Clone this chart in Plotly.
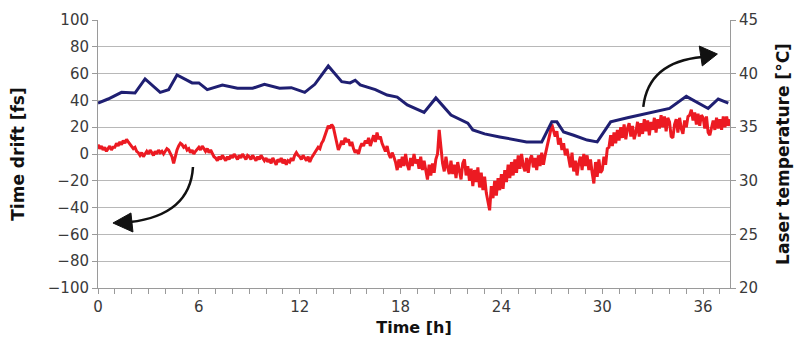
import numpy as np
import plotly.graph_objects as go

# ---- data ----
# Time drift (red), sampled every 0.1 h from 0 to 37.6 h (one row per hour)
drift_fs = [
    7, 4, 6, 3, 5, 2, 4, 6, 3, 5,
    5, 8, 6, 9, 7, 10, 8, 11, 9, 7,
    6, 4, 5, 2, 1, -1, 1, -2, 0, 2,
    0, 3, 1, -1, 2, 0, 3, 1, 2, 0,
    2, 4, 3, 1, -2, -7, -1, 3, 6, 8,
    7, 5, 6, 3, 4, 1, 3, 0, 2, 4,
    5, 3, 6, 4, 2, 4, 1, 3, 0, -2,
    -3, -5, -2, -4, -1, -3, -5, -2, -4, -1,
    -3, 0, -2, -4, -1, -3, 0, -2, -4, -1,
    -2, -4, -1, -3, -5, -2, -4, -1, -3, -5,
    -3, -6, -4, -7, -3, -5, -8, -4, -6, -3,
    -7, -4, -8, -5, -6, -3, -5, -1, 1, -1,
    -2, -4, -1, -3, -5, -2, -6, -3, -1, 0,
    2, 5, 4, 8, 10, 14, 17, 21, 19, 22,
    20, 15, 8, 3, 6, 10, 7, 12, 9, 11,
    6, 9, 4, 1, 3, 0, 5, 8, 6, 10,
    8, 12, 6, 11, 14, 9, 16, 11, 13, 8,
    5, 2, 6, 0, -3, 1, -2, -6, -12, -4,
    -10, -2, -9, 0, -8, -12, -3, -9, 0, -7,
    -4, -11, -2, -12, -5, -14, -19, -8, -16, -7,
    -14, -4, 0, 18, 3, -7, -13, -2, -10, -15,
    -5, -15, -8, -18, -6, -13, -19, -7, -4, -16,
    -9, -20, -11, -24, -12, -21, -10, -25, -14, -27,
    -17, -29, -35, -42, -24, -33, -20, -31, -18, -27,
    -15, -26, -12, -21, -8, -18, -6, -16, -4, -14,
    -1, -11, 0, -9, -13, -3, -14, -4, -1, -10,
    -3, -12, -1, -9, 1, -8, -1, 4, 10, 16,
    22, 17, 13, 17, 7, 12, 3, 8, -1, 4,
    -4, -10, 1, -13, -5, -16, -7, -2, -12, 0,
    -9, -1, -12, -4, -14, -22, -6, -17, -4, -14,
    -12, -2, -8, 4, 5, 14, 6, 16, 8, 18,
    10, 20, 12, 22, 11, 19, 23, 13, 21, 11,
    16, 24, 13, 23, 15, 26, 17, 25, 14, 24,
    18, 27, 16, 26, 19, 29, 20, 28, 17, 27,
    24, 13, 12, 22, 26, 16, 27, 19, 15, 25,
    20, 28, 29, 33, 25, 31, 22, 30, 21, 29,
    27, 19, 28, 16, 14, 21, 25, 18, 27, 19,
    26, 18, 28, 20, 28, 21, 26,
]
drift_time_h = np.round(np.arange(len(drift_fs)) * 0.1, 1)

# Laser temperature (blue)
temp_time_h = [0, 0.6, 1.4, 2.2, 2.8, 3.7, 4.2, 4.7, 5.6, 6.0, 6.5, 7.4, 8.3, 9.2,
               9.9, 10.8, 11.5, 12.3, 12.9, 13.7, 14.5, 15.0, 15.3, 15.6, 16.5,
               17.2, 17.8, 18.4, 19.4, 20.1, 21.0, 22.0, 22.3, 23.0, 23.9, 25.5,
               26.4, 27.0, 27.3, 27.7, 28.3, 29.1, 29.7, 30.5, 31.5, 32.7, 34.0,
               35.0, 35.6, 36.3, 36.9, 37.5]
temp_c = [37.25, 37.63, 38.25, 38.19, 39.5, 38.25, 38.5, 39.88, 39.13, 39.13, 38.5,
          38.94, 38.63, 38.63, 39.0, 38.63, 38.69, 38.25, 39.0, 40.71, 39.25, 39.13,
          39.38, 38.94, 38.5, 38.0, 37.81, 37.08, 36.38, 37.73, 36.13, 35.38, 34.75,
          34.38, 34.09, 33.63, 33.63, 35.5, 35.5, 34.55, 34.25, 33.8, 33.63, 35.5,
          35.88, 36.33, 36.75, 37.88, 37.38, 36.75, 37.63, 37.25]

x_ticks = [0, 6, 12, 18, 24, 30, 36]
y_left_ticks = list(range(-100, 101, 20))
y_right_ticks = [20, 25, 30, 35, 40, 45]

FONT = "DejaVu Sans, Verdana, sans-serif"
AX = "#9a9a9a"
TICKFONT = dict(family=FONT, size=15, color="#3a3a3a")
TITLEFONT = dict(family=FONT, size=17, color="#111111")

fig = go.Figure()
fig.add_trace(go.Scatter(x=drift_time_h, y=drift_fs, mode="lines",
                         line=dict(color="#ec1a22", width=3), yaxis="y",
                         showlegend=False))
fig.add_trace(go.Scatter(x=temp_time_h, y=temp_c, mode="lines",
                         line=dict(color="#1f1f72", width=3), yaxis="y2",
                         showlegend=False))

# curved arrows (in left-axis data coordinates)
arrow_col = "#111111"
fig.add_shape(type="path", xref="x", yref="y",
              path="M 5.65,-9.7 Q 5.48,-45.5 1.9,-50.8",
              line=dict(color=arrow_col, width=2.5))
fig.add_shape(type="path", xref="x", yref="y",
              path="M 0.89,-51.5 L 1.96,-44.0 L 2.08,-58.2 Z",
              fillcolor=arrow_col, line=dict(color=arrow_col, width=1))
fig.add_shape(type="path", xref="x", yref="y",
              path="M 32.44,35.1 Q 32.74,68.7 35.95,72.4",
              line=dict(color=arrow_col, width=2.5))
fig.add_shape(type="path", xref="x", yref="y",
              path="M 36.85,74.6 L 35.77,80.6 L 35.95,65.7 Z",
              fillcolor=arrow_col, line=dict(color=arrow_col, width=1))

fig.update_layout(
    width=794, height=341,
    margin=dict(l=90, r=72, t=12, b=61),
    paper_bgcolor="white", plot_bgcolor="white",
    font=dict(family=FONT, size=15, color="#3a3a3a"),
    xaxis=dict(
        range=[0, 37.6], tickvals=x_ticks, ticks="outside", ticklen=5,
        tickcolor=AX, showline=True, linecolor=AX, linewidth=1,
        showgrid=False, zeroline=False, automargin=False,
        minor=dict(dtick=1, ticks="outside", ticklen=5, tickcolor=AX),
        title=dict(text="<b>Time [h]</b>", font=dict(family=FONT, size=16, color="#111111"),
                   standoff=6),
        tickfont=TICKFONT,
    ),
    xaxis2=dict(
        range=[0, 37.6], overlaying="x", anchor="y", tickvals=x_ticks,
        ticks="inside", ticklen=5, tickcolor=AX, showticklabels=False,
        showline=False, showgrid=False, zeroline=False,
        minor=dict(dtick=1, ticks="inside", ticklen=5, tickcolor=AX),
    ),
    yaxis=dict(
        range=[-100, 100], tickvals=y_left_ticks, ticks="outside", ticklen=5,
        tickcolor=AX, showline=True, linecolor=AX, automargin=False,
        showgrid=True, gridcolor="#b8b8b8", gridwidth=1, zeroline=False,
        title=dict(text="<b>Time drift [fs]</b>", font=TITLEFONT, standoff=18),
        tickfont=TICKFONT,
    ),
    yaxis2=dict(
        range=[20, 45], tickvals=y_right_ticks, overlaying="y", side="right",
        ticks="outside", ticklen=5, tickcolor=AX, showline=True, automargin=False,
        linecolor=AX, showgrid=False, zeroline=False,
        title=dict(text="<b>Laser temperature [°C]</b>", font=TITLEFONT, standoff=20),
        tickfont=TICKFONT,
    ),
)

fig.write_html("out.html")
